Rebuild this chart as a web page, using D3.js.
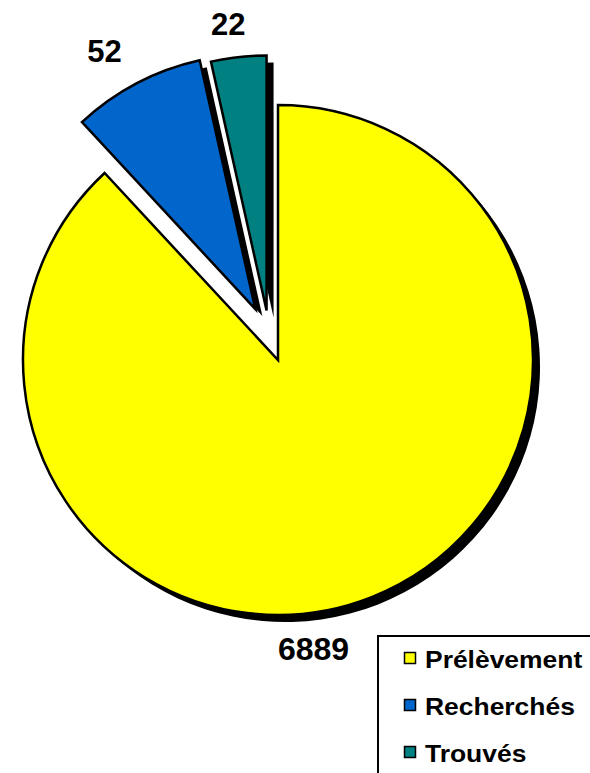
<!DOCTYPE html>
<html lang="fr">
<head>
    <meta charset="utf-8"/>
    <style>
        body {
            margin: 0;
            background: #fff;
        }
        svg {
            display: block;
            font-family: "Liberation Sans", Arial, sans-serif;
            font-weight: bold;
        }
        path.slice {
            stroke: #000;
            stroke-width: 2.5px;
            stroke-linejoin: miter;
        }
        path.shadow {
            fill: #000;
            stroke: none;
        }
    </style>
    <script src="https://d3js.org/d3.v7.min.js" charset="utf-8"></script>
</head>
<body>
<svg id="chart" width="590" height="773"></svg>
<script>
    // categories and numbers shown on the chart
    var categories = ['Prélèvement', 'Recherchés', 'Trouvés'];
    var counts = [6889, 52, 22];
    // share of the circle each slice takes in the picture (%)
    var shares = [88.1, 8.4, 3.5];
    var colors = ['#ffff00', '#0066cc', '#008080'];

    // explosion: distance and direction (degrees, clockwise from 12 o'clock)
    var explode = [[0, 0], [55.7, 336], [50.8, 347]];
    // label placement: radius and angle from the pie centre (plus explosion)
    var labelPlace = [[291, 173], [299, -30.3], [289, -7.6]];

    var cx = 278, cy = 360, R = 255, shadowDx = 7, shadowDy = 7;

    var svg = d3.select('#chart');
    var pie = d3.pie().sort(null).value(function(d) { return d; });
    var arcs = pie(shares);
    var arc = d3.arc().innerRadius(0).outerRadius(R);

    function off(i) {
        var a = explode[i][1] * Math.PI / 180;
        return [explode[i][0] * Math.sin(a), -explode[i][0] * Math.cos(a)];
    }

    var g = svg.append('g').attr('transform', 'translate(' + cx + ',' + cy + ')');

    // shadows first
    g.selectAll('path.shadow')
        .data(arcs)
        .enter().append('path')
        .classed('shadow', true)
        .attr('d', arc)
        .attr('transform', function(d, i) {
            var o = off(i);
            return 'translate(' + (o[0] + shadowDx) + ',' + (o[1] + shadowDy) + ')';
        });

    g.selectAll('path.slice')
        .data(arcs)
        .enter().append('path')
        .classed('slice', true)
        .attr('d', arc)
        .attr('fill', function(d, i) { return colors[i]; })
        .attr('transform', function(d, i) {
            var o = off(i);
            return 'translate(' + o[0] + ',' + o[1] + ')';
        });

    g.selectAll('text.val')
        .data(counts)
        .enter().append('text')
        .classed('val', true)
        .attr('text-anchor', 'middle')
        .attr('dy', '0.36em')
        .style('font-size', function(d, i) { return i ? '31px' : '32px'; })
        .attr('x', function(d, i) {
            var a = labelPlace[i][1] * Math.PI / 180;
            return off(i)[0] + labelPlace[i][0] * Math.sin(a);
        })
        .attr('y', function(d, i) {
            var a = labelPlace[i][1] * Math.PI / 180;
            return off(i)[1] - labelPlace[i][0] * Math.cos(a);
        })
        .text(function(d) { return d; });

    // legend
    var lg = svg.append('g');
    lg.append('rect')
        .attr('x', 378).attr('y', 636)
        .attr('width', 240).attr('height', 160)
        .attr('fill', '#fff')
        .attr('stroke', '#000')
        .attr('stroke-width', 2);

    var ly = d3.scaleBand().domain(categories).range([644, 785]);

    var item = lg.selectAll('g.item')
        .data(categories)
        .enter().append('g')
        .attr('transform', function(d) { return 'translate(404,' + ly(d) + ')'; });

    item.append('rect')
        .attr('x', 0.5).attr('y', 8.5)
        .attr('width', 11).attr('height', 11)
        .attr('fill', function(d, i) { return colors[i]; })
        .attr('stroke', '#000')
        .attr('stroke-width', 1.5);

    item.append('text')
        .attr('transform', 'translate(21,24) scale(1.15,1)')
        .style('font-size', '23px')
        .text(function(d) { return d; });
</script>
</body>
</html>
